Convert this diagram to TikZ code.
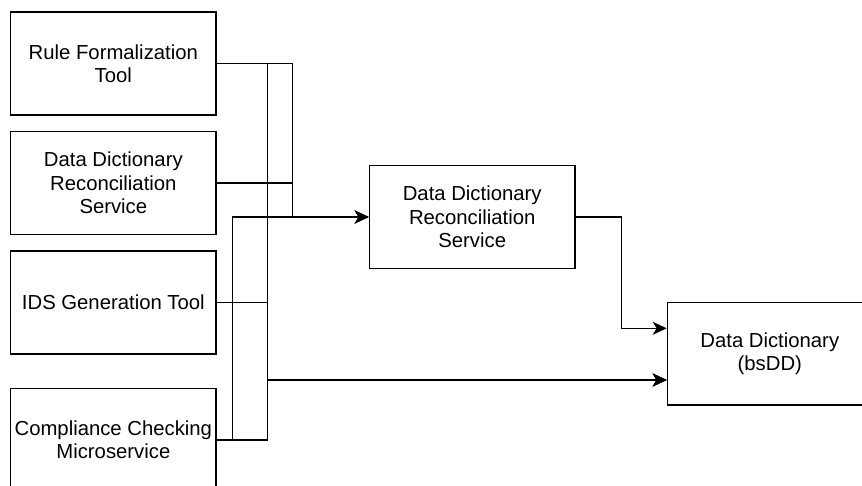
\documentclass[tikz,border=0pt]{standalone}
\usepackage{fontspec}
\setmainfont{Liberation Sans}
\usetikzlibrary{arrows.meta,calc}

\tikzset{
  box/.style={draw=black, line width=1.3pt, fill=white, align=center,
    minimum width=205.3pt, minimum height=103pt, inner sep=0pt,
    font=\fontsize{20.3}{23.4}\selectfont},
  conn/.style={draw=black, line width=1.3pt},
  arr/.style={conn, -{Stealth[length=14pt,width=13pt,inset=4pt]}},
}

\begin{document}
\begin{tikzpicture}[x=1pt, y=-1pt]
  \clip (0,0) rectangle (862,486);
  \fill[white] (0,0) rectangle (862,486);

  % sources on the left
  \node[box] (r1) at (113.35, 63.5)  {Rule Formalization\\Tool};
  \node[box] (r2) at (113.35, 183)   {Data Dictionary\\Reconciliation\\Service};
  \node[box] (r3) at (113.35, 302.5) {IDS Generation Tool};
  \node[box] (r4) at (113.35, 440)   {Compliance Checking\\Microservice};

  % reconciliation service and target dictionary
  \node[box, minimum width=205.7pt, minimum height=102.6pt] (ddrs) at (472.2, 217) {Data Dictionary\\Reconciliation\\Service};
  \node[box, minimum width=205pt, minimum height=102.3pt] (bsdd) at (769.8, 353.85) {Data Dictionary\\(bsDD)};

  % entry points on the dictionary (upper from the service, lower from the bus)
  \coordinate (bin1) at ($(bsdd.west)+(0,-25.55)$);
  \coordinate (bin2) at ($(bsdd.west)+(0,26.15)$);

  % bus columns
  \coordinate (colA) at (232.7, 0);
  \coordinate (colB) at (292.7, 0);
  \coordinate (colC) at (267.7, 0);
  \coordinate (colD) at (621.3, 0);

  % into the reconciliation service
  \draw[arr] (r1.east) -| (colB |- ddrs.west) -- (ddrs.west);
  \draw[arr] (r2.east) -| (colB |- ddrs.west) -- (ddrs.west);
  \draw[arr] (r4.east) -| (colA |- ddrs.west) -- (ddrs.west);

  % into the dictionary
  \draw[arr] (r1.east) -| (colC |- bin2) -- (bin2);
  \draw[arr] (r3.east) -| (colC |- bin2) -- (bin2);
  \draw[arr] (r4.east) -| (colC |- bin2) -- (bin2);
  \draw[arr] (ddrs.east) -| (colD |- bin1) -- (bin1);
\end{tikzpicture}
\end{document}
